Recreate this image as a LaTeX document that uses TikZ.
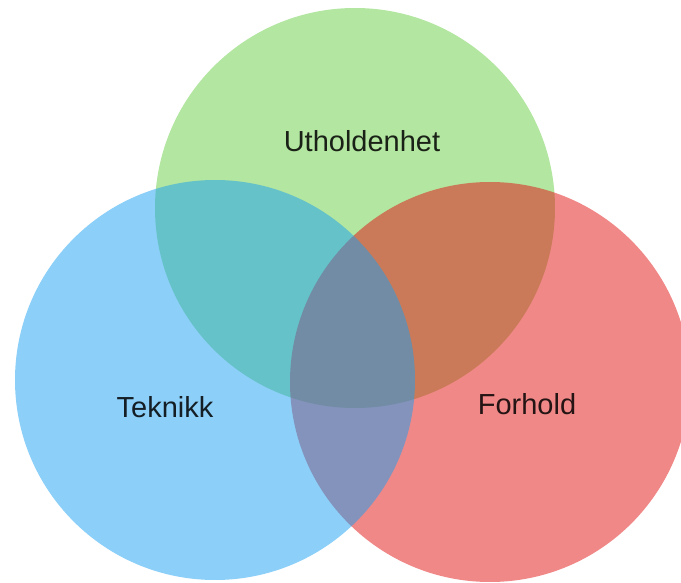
\documentclass[tikz,border=0pt]{standalone}
\usepackage{fontspec}
\setmainfont{Liberation Sans}
\definecolor{vgreen}{RGB}{103,205,65}
\definecolor{vred}{RGB}{225,17,17}
\definecolor{vblue}{RGB}{25,159,241}
\begin{document}
\begin{tikzpicture}[x=1pt,y=-1pt,
  setcircle/.style={circle, draw=none, fill=#1, fill opacity=0.5, minimum size=400pt, inner sep=0pt},
  setlabel/.style={anchor=base, text=black, text opacity=0.85, font=\fontsize{29}{34}\selectfont}]
\useasboundingbox (0,0) rectangle (681,583);
\node[setcircle=vgreen] (green) at (355,208) {};
\node[setcircle=vred] (red) at (490,382) {};
\node[setcircle=vblue] (blue) at (215,380) {};
\node[setlabel] (lu) at (362,152) {Utholdenhet};
\node[setlabel] (lt) at (165,417) {Teknikk};
\node[setlabel] (lf) at (527,414) {Forhold};
\end{tikzpicture}
\end{document}
